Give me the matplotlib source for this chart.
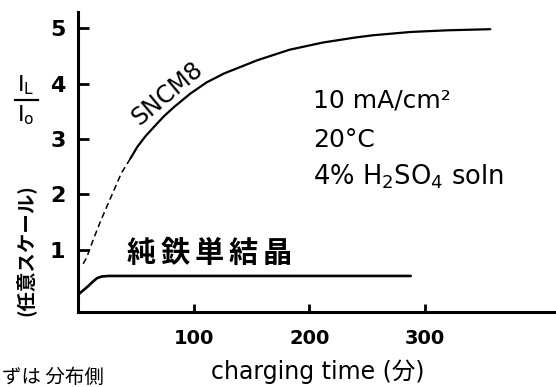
import matplotlib
matplotlib.use("Agg")
import matplotlib.pyplot as plt
from matplotlib.lines import Line2D

# ---- data ----
sncm8_dash_t = [4, 7, 13, 19.5, 27, 37, 45]
sncm8_dash_v = [0.75, 0.86, 1.2, 1.54, 1.9, 2.38, 2.65]
sncm8_t = [45, 51, 58, 65.5, 74, 83, 97, 111, 126, 155, 183, 212, 240, 255, 288, 320, 357]
sncm8_v = [2.65, 2.86, 3.05, 3.22, 3.41, 3.58, 3.82, 4.02, 4.18, 4.42, 4.61, 4.74, 4.83, 4.87, 4.93, 4.96, 4.98]
fe_t = [0, 4, 8, 12, 16, 20, 26, 60, 150, 288]
fe_v = [0.2, 0.27, 0.34, 0.42, 0.49, 0.52, 0.53, 0.53, 0.53, 0.53]
xticks = [100, 200, 300]
yticks = [1, 2, 3, 4, 5]
fe_label = '純鉄単結晶'

CJK = ['Noto Sans CJK JP', 'DejaVu Sans']
LAT = ['DejaVu Sans', 'Noto Sans CJK JP']

W, H = 556, 387
fig = plt.figure(figsize=(W / 100, H / 100), dpi=100)
ax = fig.add_axes([78 / W, 1 - 312 / H, (W - 78) / W, (312 - 12) / H])
ax.set_xlim(-0.5, 414)
ax.set_ylim(-0.12, 5.29)

ax.plot(sncm8_dash_t, sncm8_dash_v, color='black', lw=1.1, ls=(0, (4, 2.5)))
ax.plot(sncm8_t, sncm8_v, color='black', lw=1.6, solid_capstyle='round',
        solid_joinstyle='round')
ax.plot(fe_t, fe_v, color='black', lw=1.9, solid_capstyle='round',
        solid_joinstyle='round')

for s in ['top', 'right']:
    ax.spines[s].set_visible(False)
for s in ['left', 'bottom']:
    ax.spines[s].set_linewidth(2.2)

ax.set_xticks(xticks)
ax.set_xticklabels([str(v) for v in xticks], fontsize=14, fontweight='bold')
ax.set_yticks(yticks)
ax.set_yticklabels([str(v) for v in yticks], fontsize=16, fontweight='bold')
ax.tick_params(axis='x', direction='in', length=6, width=2, pad=12)
ax.tick_params(axis='y', direction='in', length=8, width=2, pad=9)

ax.set_xlabel('charging time (分)', fontsize=17, family=LAT)
ax.xaxis.set_label_coords((318 - 78) / (W - 78), -(359 - 312) / (312 - 12))

# annotations
ax.text(77, 3.83, 'SNCM8', rotation=40, fontsize=17, ha='center', va='center')
ax.text(203, 3.70, '10 mA/cm²', fontsize=18, ha='left', va='center')
ax.text(203, 2.98, '20°C', fontsize=18, ha='left', va='center')
ax.text(203, 2.31, '4% H$_2$SO$_4$ soln', fontsize=18.5, ha='left', va='center')
for i, ch in enumerate(fe_label):
    fig.text((141 + i * 34) / W, 1 - 253 / H, ch, fontsize=21, family=CJK,
             fontweight='bold', ha='center', va='center')

# y label: I_L / I_0 fraction
fig.text(26 / W, 1 - 85 / H, r'I$_\mathrm{L}$', fontsize=16, ha='center', va='center')
fig.text(26 / W, 1 - 115 / H, r'I$_\mathrm{o}$', fontsize=16, ha='center', va='center')
fig.add_artist(Line2D([15 / W, 38 / W], [1 - 100 / H, 1 - 100 / H],
                      color='black', lw=1.6, transform=fig.transFigure))
fig.text(25 / W, 1 - 250 / H, '(任意スケール)', rotation=90, fontsize=14,
         family=CJK, fontweight='bold', ha='center', va='center')

# partly cut-off note at bottom-left
fig.text(2 / W, 1 - 377 / H, 'ずは 分布側', fontsize=14, family=CJK,
         ha='left', va='center')

fig.savefig('out.png', dpi=100)
